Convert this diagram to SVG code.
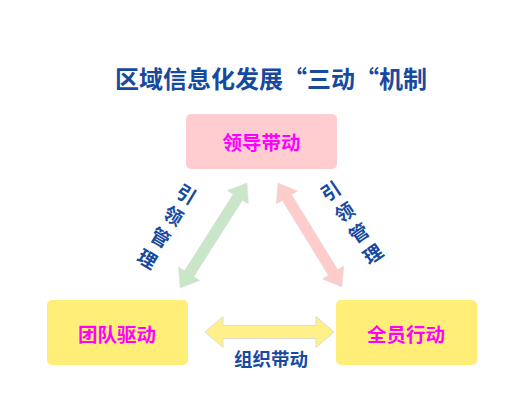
<svg xmlns="http://www.w3.org/2000/svg" width="508" height="409" viewBox="0 0 508 409">
<style>
.t{font-family:"Noto Sans CJK SC","Noto Sans",sans-serif;font-weight:bold}
.blue{fill:#174a9f}
.mag{fill:#ff00ff;font-size:19.5px}
.lbl{font-size:19px}
</style>
<rect width="508" height="409" fill="#ffffff"/>
<text class="t blue" x="271" y="88" font-size="24" text-anchor="middle">区域信息化发展“三动“机制</text>
<g id="connectors">
<polygon transform="translate(213.5,235.5) rotate(-57.5)" fill="#c9e6c9" stroke="#dcdcdc" stroke-width="0.5" points="-62.3,0 -45.3,-12.5 -45.3,-5.5 45.3,-5.5 45.3,-12.5 62.3,0 45.3,12.5 45.3,5.5 -45.3,5.5 -45.3,12.5"/>
<polygon transform="translate(310,235) rotate(58.4)" fill="#ffcccc" stroke="#dcdcdc" stroke-width="0.5" points="-61,0 -44,-12.5 -44,-5.5 44,-5.5 44,-12.5 61,0 44,12.5 44,5.5 -44,5.5 -44,12.5"/>
<polygon transform="translate(269.5,332)" fill="#fff08a" stroke="#d6d6d6" stroke-width="0.8" points="-64.5,0 -46.5,-15.5 -46.5,-6.5 46.5,-6.5 46.5,-15.5 64.5,0 46.5,15.5 46.5,6.5 -46.5,6.5 -46.5,15.5"/>
<g id="label-left" transform="translate(167.5,225.5) rotate(31)">
<text class="t blue lbl" x="0" y="-37.9" text-anchor="middle" dominant-baseline="central">引</text>
<text class="t blue lbl" x="0" y="-12.6" text-anchor="middle" dominant-baseline="central">领</text>
<text class="t blue lbl" x="0" y="12.6" text-anchor="middle" dominant-baseline="central">管</text>
<text class="t blue lbl" x="0" y="37.9" text-anchor="middle" dominant-baseline="central">理</text>
</g>
<g id="label-right" transform="translate(351,221.5) rotate(-34)">
<text class="t blue lbl" x="0" y="-37.9" text-anchor="middle" dominant-baseline="central">引</text>
<text class="t blue lbl" x="0" y="-12.6" text-anchor="middle" dominant-baseline="central">领</text>
<text class="t blue lbl" x="0" y="12.6" text-anchor="middle" dominant-baseline="central">管</text>
<text class="t blue lbl" x="0" y="37.9" text-anchor="middle" dominant-baseline="central">理</text>
</g>
<text class="t blue" x="271" y="358" font-size="18.5" text-anchor="middle" dominant-baseline="central">组织带动</text>
</g>
<g id="node-top">
<rect x="186" y="114" width="151" height="55" rx="5" fill="#ffccd0"/>
<text class="t mag" x="261.5" y="141.5" text-anchor="middle" dominant-baseline="central">领导带动</text>
</g>
<g id="node-left">
<rect x="47" y="300" width="141" height="65" rx="5" fill="#ffee77"/>
<text class="t mag" x="117" y="333" text-anchor="middle" dominant-baseline="central">团队驱动</text>
</g>
<g id="node-right">
<rect x="336" y="300" width="141" height="65" rx="5" fill="#ffee77"/>
<text class="t mag" x="406" y="333" text-anchor="middle" dominant-baseline="central">全员行动</text>
</g>
</svg>
